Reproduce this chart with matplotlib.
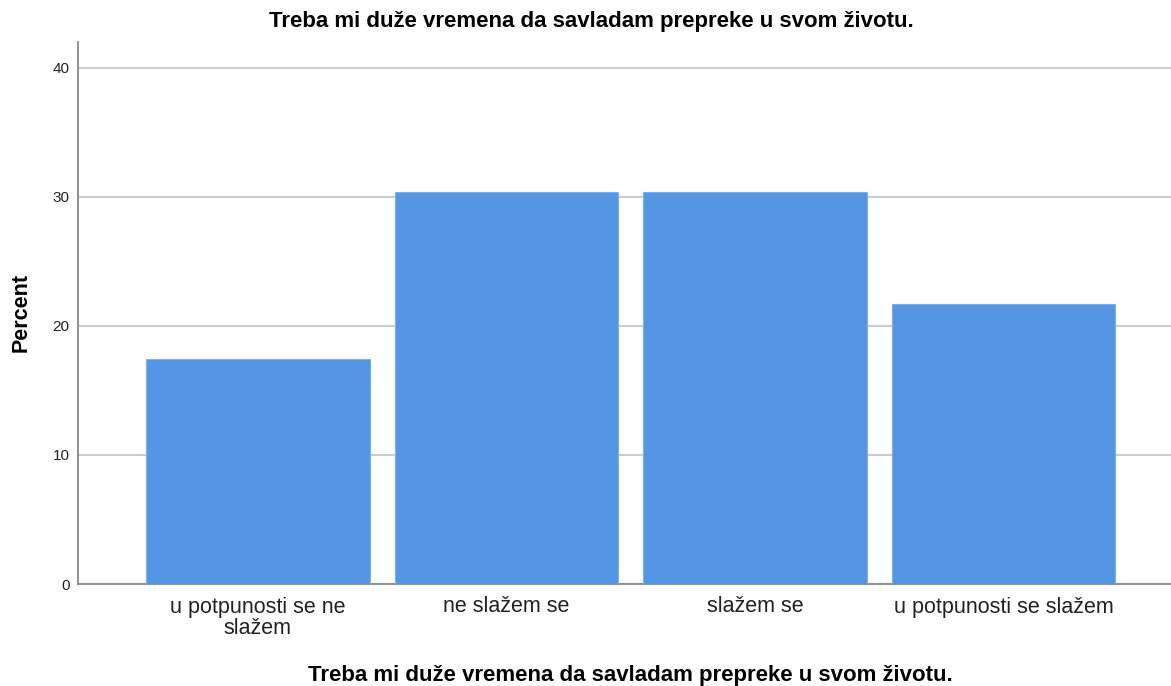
import numpy as np
import matplotlib.pyplot as plt

plt.rcParams['font.family'] = ['Liberation Sans', 'DejaVu Sans']

# answers (N = 23), percent of respondents
categories = ['u potpunosti se ne\nslažem', 'ne slažem se', 'slažem se', 'u potpunosti se slažem']
percent = [17.4, 30.4, 30.4, 21.7]
title = 'Treba mi duže vremena da savladam prepreke u svom životu.'

fig = plt.figure(figsize=(11.71, 6.86), dpi=100)
ax = fig.add_axes([78/1171, 1 - 584/686, 1 - 78/1171, (584 - 42)/686])

x = np.arange(len(categories))
ax.bar(x, percent, width=0.9, color='#5596e4', edgecolor='#7fb0ec', linewidth=0.8, zorder=3)

ax.set_xlim(-0.724, 3.674)
ax.set_ylim(0, 42)
ax.set_yticks([0, 10, 20, 30, 40])
ax.yaxis.grid(True, color='#cccccc', linewidth=1.5, zorder=0)
ax.set_axisbelow(True)

ax.set_xticks(x)
ax.set_xticklabels(categories, fontsize=15.5, color='#222222', linespacing=1.05)
ax.tick_params(axis='x', length=0, pad=9)
ax.tick_params(axis='y', length=0, pad=6, labelsize=11, labelcolor='#222222')

for s in ['top', 'right']:
    ax.spines[s].set_visible(False)
for s in ['left', 'bottom']:
    ax.spines[s].set_color('#888888')
    ax.spines[s].set_linewidth(1.3)

ax.set_ylabel('Percent', fontsize=15.5, fontweight='bold', labelpad=15)
fig.text(630/1171, 1 - 675/686, title, ha='center', va='center', fontsize=16, fontweight='bold')
fig.text(591/1171, 1 - 22/686, title, ha='center', va='center', fontsize=16, fontweight='bold')

fig.savefig('out.png', dpi=100)
